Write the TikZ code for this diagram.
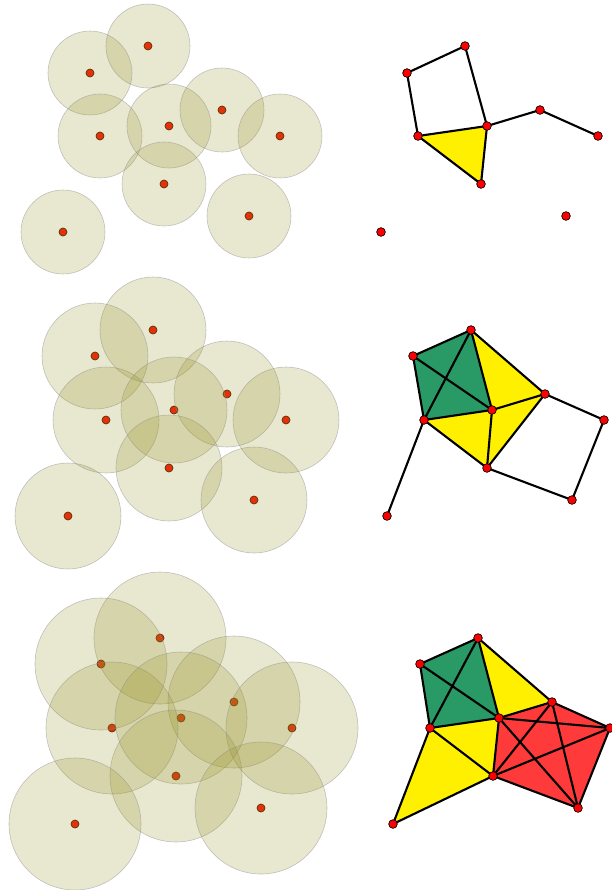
\documentclass[tikz,border=0pt]{standalone}
\usepackage{tikz}
\definecolor{cyellow}{RGB}{255,240,0}
\definecolor{cgreen}{RGB}{41,153,102}
\definecolor{cred}{RGB}{255,58,58}
\definecolor{cdisk}{RGB}{150,146,37}
\definecolor{cdot}{RGB}{255,20,0}
\definecolor{cdotrim}{RGB}{60,30,0}
\usetikzlibrary{positioning}
\tikzset{
  disk/.style={fill=cdisk,fill opacity=0.22,draw=black!45,draw opacity=0.5,line width=0.5pt},
  lpt/.style={circle,fill=cdot,draw=cdotrim,line width=0.6pt,inner sep=0pt,minimum size=0.24cm},
  vtx/.style={circle,fill=red,draw=black,line width=0.6pt,inner sep=0pt,minimum size=0.26cm},
  edge/.style={draw=black,line width=1.8pt,line join=round}
}
\begin{document}
\begin{tikzpicture}[x=0.03cm,y=-0.03cm]
  \useasboundingbox (0,0) rectangle (611,890);
  % left, row 1
  \node[lpt] (l1a) at (148,46) {};  \node[lpt] (l1b) at (90,73) {};
  \node[lpt] (l1c) at (222,110) {}; \node[lpt] (l1d) at (100,136) {};
  \node[lpt] (l1e) at (169,126) {}; \node[lpt] (l1f) at (280,136) {};
  \node[lpt] (l1g) at (164,184) {}; \node[lpt] (l1h) at (249,216) {};
  \node[lpt] (l1i) at (63,232) {};
  \foreach \p in {a,b,c,d,e,f,g,h,i}
    \draw[disk] (l1\p.center) circle (1.26cm);
  % left, row 2
  \node[lpt] (l2a) at (153,330) {}; \node[lpt] (l2b) at (95,356) {};
  \node[lpt] (l2c) at (227,394) {}; \node[lpt] (l2d) at (106,420) {};
  \node[lpt] (l2e) at (174,410) {}; \node[lpt] (l2f) at (286,420) {};
  \node[lpt] (l2g) at (169,468) {}; \node[lpt] (l2h) at (254,500) {};
  \node[lpt] (l2i) at (68,516) {};
  \foreach \p in {a,b,c,d,e,f,g,h,i}
    \draw[disk] (l2\p.center) circle (1.59cm);
  % left, row 3
  \node[lpt] (l3a) at (160,638) {}; \node[lpt] (l3b) at (101,664) {};
  \node[lpt] (l3c) at (234,702) {}; \node[lpt] (l3d) at (112,728) {};
  \node[lpt] (l3e) at (181,718) {}; \node[lpt] (l3f) at (292,728) {};
  \node[lpt] (l3g) at (176,776) {}; \node[lpt] (l3h) at (261,808) {};
  \node[lpt] (l3i) at (75,824) {};
  \foreach \p in {a,b,c,d,e,f,g,h,i}
    \draw[disk] (l3\p.center) circle (1.98cm);

  % right, row 1
  \coordinate (r1a) at (465,46);  \coordinate (r1b) at (407,73);
  \coordinate (r1c) at (540,110); \coordinate (r1d) at (418,136);
  \coordinate (r1e) at (487,126); \coordinate (r1f) at (598,136);
  \coordinate (r1g) at (481,184); \coordinate (r1h) at (566,216);
  \coordinate (r1i) at (381,232);
  \fill[cyellow] (r1d) -- (r1e) -- (r1g) -- cycle;
  \draw[edge] (r1b) -- (r1a) -- (r1e) -- (r1c) -- (r1f);
  \draw[edge] (r1b) -- (r1d) -- (r1e) -- (r1g) -- (r1d);
  \foreach \p in {a,b,c,d,e,f,g,h,i}
    \node[vtx] (v1\p) at (r1\p) {};

  % right, row 2
  \coordinate (r2a) at (471,330); \coordinate (r2b) at (413,356);
  \coordinate (r2c) at (545,394); \coordinate (r2d) at (424,420);
  \coordinate (r2e) at (492,410); \coordinate (r2f) at (604,420);
  \coordinate (r2g) at (487,468); \coordinate (r2h) at (572,500);
  \coordinate (r2i) at (387,516);
  \fill[cgreen] (r2a) -- (r2e) -- (r2d) -- (r2b) -- cycle;
  \fill[cyellow] (r2a) -- (r2c) -- (r2g) -- (r2d) -- (r2e) -- cycle;
  \draw[edge] (r2b) -- (r2a) -- (r2c) -- (r2f) -- (r2h) -- (r2g) -- (r2d) -- (r2b);
  \draw[edge] (r2a) -- (r2d) -- (r2e) -- (r2b);
  \draw[edge] (r2a) -- (r2e) -- (r2c) -- (r2g) -- (r2e);
  \draw[edge] (r2d) -- (r2i);
  \foreach \p in {a,b,c,d,e,f,g,h,i}
    \node[vtx] (v2\p) at (r2\p) {};

  % right, row 3
  \coordinate (r3a) at (478,638); \coordinate (r3b) at (420,664);
  \coordinate (r3c) at (552,702); \coordinate (r3d) at (430,728);
  \coordinate (r3e) at (499,718); \coordinate (r3f) at (610,728);
  \coordinate (r3g) at (493,776); \coordinate (r3h) at (578,808);
  \coordinate (r3i) at (393,824);
  \fill[cgreen] (r3a) -- (r3e) -- (r3d) -- (r3b) -- cycle;
  \fill[cyellow] (r3a) -- (r3c) -- (r3e) -- cycle;
  \fill[cyellow] (r3d) -- (r3e) -- (r3g) -- (r3i) -- cycle;
  \fill[cred] (r3e) -- (r3c) -- (r3f) -- (r3h) -- (r3g) -- cycle;
  \draw[edge] (r3b) -- (r3a) -- (r3c) -- (r3f) -- (r3h) -- (r3g) -- (r3i) -- (r3d) -- (r3b);
  \draw[edge] (r3a) -- (r3d) -- (r3e) -- (r3b);
  \draw[edge] (r3a) -- (r3e) -- (r3c) -- (r3g) -- (r3e);
  \draw[edge] (r3d) -- (r3g) -- (r3f) -- (r3e) -- (r3h) -- (r3c);
  \foreach \p in {a,b,c,d,e,f,g,h,i}
    \node[vtx] (v3\p) at (r3\p) {};
\end{tikzpicture}
\end{document}
